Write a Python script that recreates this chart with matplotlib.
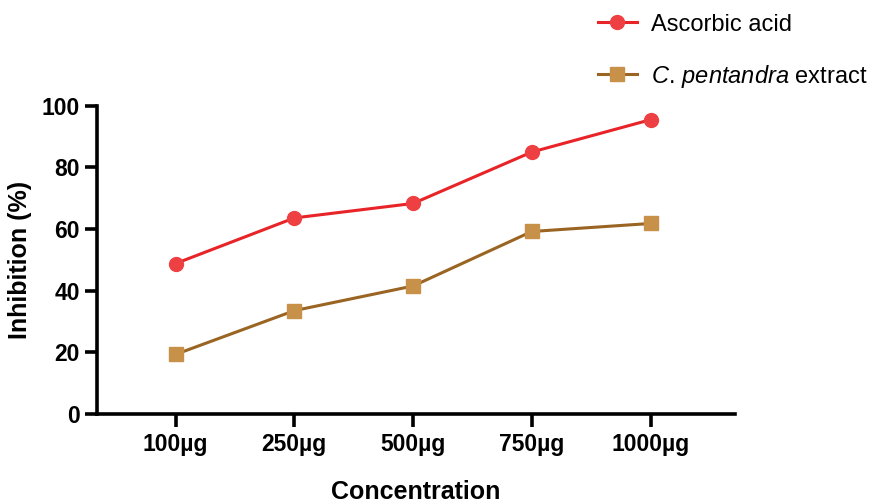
import numpy as np
import matplotlib; matplotlib.use('Agg')
import matplotlib.pyplot as plt

plt.rcParams['font.family'] = ['Liberation Sans', 'DejaVu Sans']
plt.rcParams['mathtext.fontset'] = 'custom'
plt.rcParams['mathtext.rm'] = 'Liberation Sans'
plt.rcParams['mathtext.it'] = 'Liberation Sans:italic'

# data
conc = ['100µg', '250µg', '500µg', '750µg', '1000µg']
ascorbic = [48.8, 63.6, 68.3, 85.0, 95.5]
extract = [19.3, 33.5, 41.5, 59.2, 61.8]

xpos = np.arange(len(conc))

fig = plt.figure(figsize=(8.79, 5.04), dpi=100)
ax = fig.add_axes([0.110, 0.179, 0.726, 0.611])

ax.plot(xpos, ascorbic, color='#e82428', lw=2.2, marker='o', ms=10,
        mfc='#ee4043', mec='#ee4043', label='Ascorbic acid')
ax.plot(xpos, extract, color='#9a6422', lw=2.2, marker='s', ms=9.5,
        mfc='#c8914a', mec='#c8914a', label=r'$\mathit{C.\,pentandra}$ extract')

ax.set_xlim(-0.665, 4.71)
ax.set_ylim(0, 100)
ax.set_xticks(xpos)
ax.set_xticklabels(conc)
ax.set_yticks([0, 20, 40, 60, 80, 100])

for s in ['top', 'right']:
    ax.spines[s].set_visible(False)
for s in ['left', 'bottom']:
    ax.spines[s].set_linewidth(2.6)
ax.tick_params(direction='out', length=9, width=2.6, labelsize=16.5, pad=3)
ax.tick_params(axis='x', pad=5)
for lab in ax.get_xticklabels() + ax.get_yticklabels():
    lab.set_fontweight('bold')

ax.set_ylabel('Inhibition (%)', fontsize=18, fontweight='bold', labelpad=7)
ax.set_xlabel('Concentration', fontsize=18, fontweight='bold', labelpad=17)

fig.legend(loc='upper left', bbox_to_anchor=(598 / 879, 0.973), frameon=False,
           fontsize=17, labelspacing=1.15, handlelength=1.65, handletextpad=0.6,
           borderpad=0, borderaxespad=0)

fig.savefig('out.png', dpi=100)
